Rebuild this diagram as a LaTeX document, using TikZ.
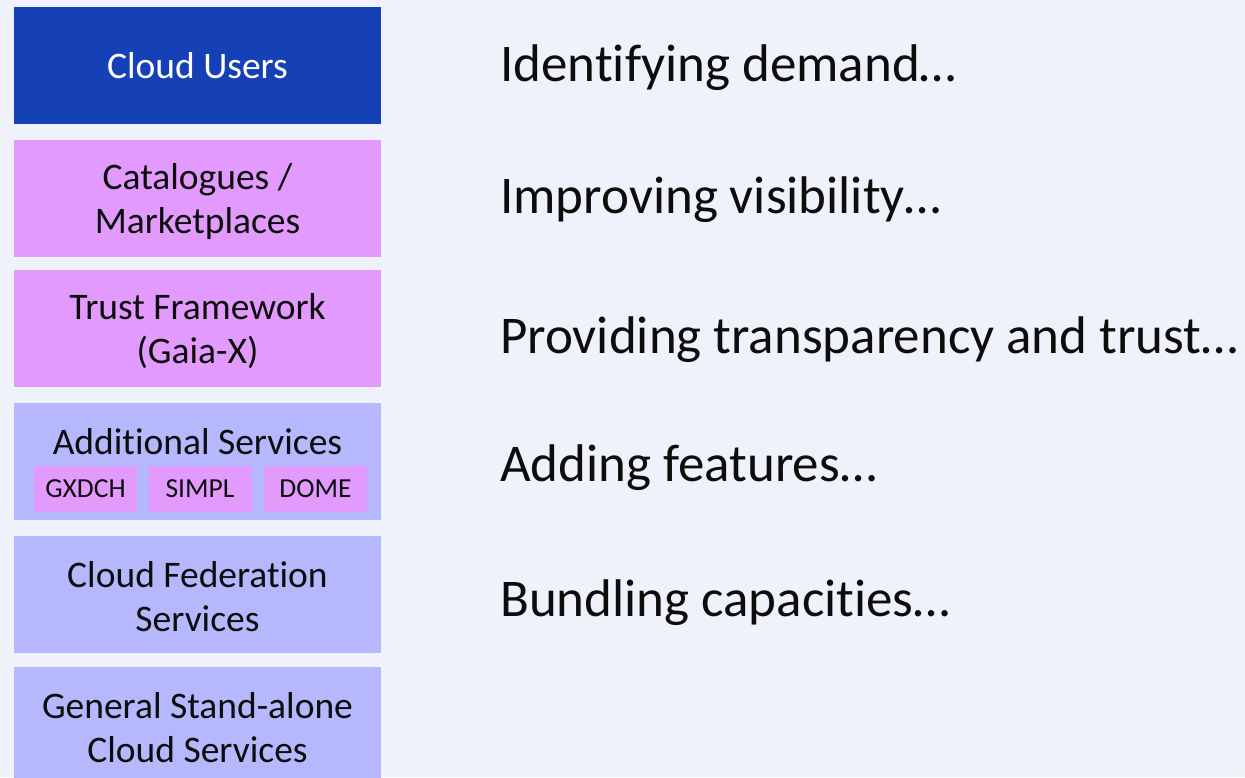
\documentclass[tikz,border=0pt]{standalone}
\usepackage{fontspec}
\setmainfont[Ligatures={NoCommon}]{Carlito}
\definecolor{bgc}{HTML}{EFF2FA}
\definecolor{userblue}{HTML}{1540B6}
\definecolor{pinkc}{HTML}{E29BFC}
\definecolor{lavc}{HTML}{B5B8FC}
\definecolor{txt}{HTML}{0D0D0D}
\begin{document}
\begin{tikzpicture}[x=1pt,y=-1pt,
  layer/.style={rectangle, inner sep=0pt, minimum width=367pt, minimum height=117pt, align=center, text=txt, font=\fontsize{37.5}{44}\selectfont},
  layertext/.style={inner sep=0pt, align=center, text=txt, font=\fontsize{37.5}{44}\selectfont},
  sub/.style={rectangle, inner sep=0pt, fill=pinkc, minimum width=103pt, minimum height=46pt, text=txt, font=\fontsize{27.5}{30}\selectfont},
  claim/.style={anchor=west, inner sep=0pt, text=txt, font=\fontsize{53}{60}\selectfont}]
\fill[bgc] (0,0) rectangle (1245,777);
\useasboundingbox (0,0) rectangle (1245,777);
\node[layer, fill=userblue, text=white] (users) at (197.5,65.5) {Cloud Users};
\node[layer, fill=pinkc] (cat) at (197.5,198.5) {};
\node[layertext] (catt) at (197.5,201) {Catalogues /\\Marketplaces};
\node[layer, fill=pinkc] (trust) at (197.5,328.5) {};
\node[layertext] (trustt) at (197.5,331) {Trust Framework\\(Gaia-X)};
\node[layer, fill=lavc] (add) at (197.5,461.5) {};
\node[layertext] (addt) at (197.5,442) {Additional Services};
\node[sub] (gx) at (85.5,489) {GXDCH};
\node[sub] (simpl) at (200,489) {SIMPL};
\node[sub] (dome) at (315.5,489) {DOME};
\node[layer, fill=lavc] (fed) at (197.5,594.5) {};
\node[layertext] (fedt) at (197.5,597) {Cloud Federation\\Services};
\node[layer, fill=lavc] (gen) at (197.5,725.5) {};
\node[layertext] (gent) at (197.5,728) {General Stand-alone\\Cloud Services};
\node[claim] (c1) at (500,68) {Identifying demand…};
\node[claim] (c2) at (500,200) {Improving visibility…};
\node[claim] (c3) at (500,340) {Providing transparency and trust…};
\node[claim] (c4) at (500,468) {Adding features…};
\node[claim] (c5) at (500,603) {Bundling capacities…};
\end{tikzpicture}
\end{document}
